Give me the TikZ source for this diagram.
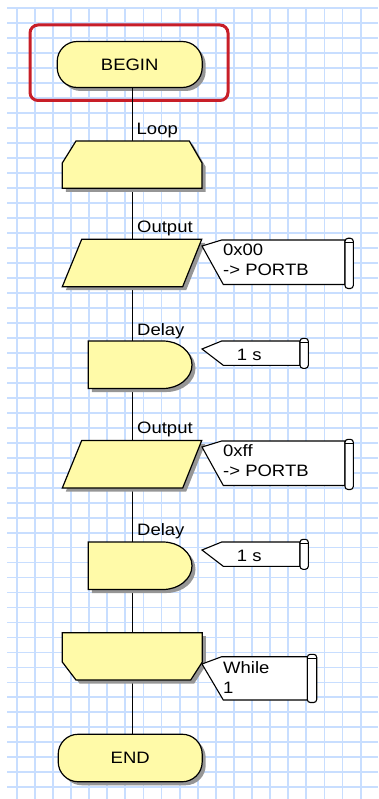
\documentclass[tikz,border=0pt]{standalone}
\usepackage{fontspec}
\setmainfont{Liberation Sans}[FakeStretch=1.12]
\definecolor{fy}{RGB}{255,250,168}
\definecolor{gridc}{RGB}{200,222,255}
\definecolor{redc}{RGB}{200,30,40}
\definecolor{shd}{RGB}{150,150,150}
\begin{document}
\begin{tikzpicture}[x=1pt,y=-1pt,
 gridline/.style={gridc, line width=1.8pt},
 shp/.style={fill=fy, draw=black, line width=1.2pt, line join=miter,
   preaction={fill=shd, draw=none, transform canvas={xshift=3.5pt,yshift=-3.5pt}}},
 flow/.style={draw=black, line width=1.3pt},
 lbl/.style={anchor=base west, inner sep=0pt, font=\fontsize{16.5}{18}\selectfont},
 cmt/.style={fill=white, draw=black, line width=1.1pt, line join=miter},
 scroll/.style={fill=white, draw=black, line width=1.1pt, rounded corners=3pt},
 terminal/.style={shp, rounded corners=20pt, minimum width=145pt, minimum height=46pt,
   inner sep=0pt, font=\fontsize{16.5}{18}\selectfont},
 hilite/.style={draw=redc, line width=3pt, rounded corners=8pt},
]
\useasboundingbox (0,0) rectangle (378,799);
% grid
\foreach \k in {0,...,19} \draw[gridline] ({16.7+18.1*\k},8) -- ({16.7+18.1*\k},799);
\foreach \k in {0,...,52} \draw[gridline] (7,{8.3+14.98*\k}) -- (378,{8.3+14.98*\k});

% highlight
\draw[hilite] (30,25) rectangle (228,100.5);

% terminals
\node[terminal] (begin) at (129.7,64.5) {BEGIN};
\node[terminal, minimum width=144pt, minimum height=47.5pt] (end) at (130.2,758) {END};

% spine
\coordinate (spine) at (132.7,0);
\draw[flow] (begin.south -| spine) -- (end.north -| spine);

% loop start
\path[shp] (76,141) -- (189.3,141) -- (202,163) -- (202,188.3) -- (62.3,188.3) -- (62.3,163) -- cycle;
% output 1
\path[shp] (81.7,239.3) -- (201.7,239.3) -- (182.7,286.7) -- (62.3,286.7) -- cycle;
% delay 1
\path[shp] (88.3,341) -- (163,341) .. controls (179,341) and (192,351.6) .. (192,364.75)
   .. controls (192,377.9) and (179,388.5) .. (163,388.5) -- (88.3,388.5) -- cycle;
% output 2
\path[shp] (81.7,440.5) -- (201.7,440.5) -- (182.7,488) -- (62.3,488) -- cycle;
% delay 2
\path[shp] (88.3,542) -- (163,542) .. controls (179,542) and (192,552.6) .. (192,565.75)
   .. controls (192,578.9) and (179,589.5) .. (163,589.5) -- (88.3,589.5) -- cycle;
% loop end
\path[shp] (62.3,632.7) -- (202.3,632.7) -- (202.3,662) -- (190.7,680) -- (76,680) -- (62.3,662) -- cycle;

% labels
\node[lbl] (lLoop) at (136.5,135) {Loop};
\node[lbl] (lOut1) at (137,233) {Output};
\node[lbl] (lDel1) at (137,335) {Delay};
\node[lbl] (lOut2) at (137,433) {Output};
\node[lbl] (lDel2) at (137,535) {Delay};

% comment 1
\path[cmt] (202,246) -- (221.7,240) -- (345,240) -- (345,284.5) -- (223.3,284.5) -- cycle;
\path[scroll] (345,238.3) rectangle (353.3,288.5);
\draw[line width=1pt] (345,242.3) -- (353.3,242.3);
\node[lbl] (c1a) at (223,255) {0x00};
\node[lbl] (c1b) at (223,275) {-> PORTB};

% comment 2
\path[cmt] (202,349) -- (221.7,341) -- (300,341) -- (300,365.3) -- (223.3,365.3) -- cycle;
\path[scroll] (300,338.3) rectangle (308.3,368.3);
\draw[line width=1pt] (300,342.3) -- (308.3,342.3);
\node[lbl] (c2a) at (236.7,360) {1 s};

% comment 3
\path[cmt] (202,447) -- (221.7,441) -- (345,441) -- (345,485.5) -- (223.3,485.5) -- cycle;
\path[scroll] (345,439.3) rectangle (353.3,489.5);
\draw[line width=1pt] (345,443.3) -- (353.3,443.3);
\node[lbl] (c3a) at (223,456) {0xff};
\node[lbl] (c3b) at (223,476) {-> PORTB};

% comment 4
\path[cmt] (202,550) -- (221.7,542) -- (300,542) -- (300,566.3) -- (223.3,566.3) -- cycle;
\path[scroll] (300,539.3) rectangle (308.3,569.3);
\draw[line width=1pt] (300,543.3) -- (308.3,543.3);
\node[lbl] (c4a) at (236.7,561) {1 s};

% comment 5
\path[cmt] (202,664) -- (221.7,656.7) -- (307.3,656.7) -- (307.3,700) -- (223.3,700) -- cycle;
\path[scroll] (307.3,654.3) rectangle (316.7,702.5);
\draw[line width=1pt] (307.3,658.3) -- (316.7,658.3);
\node[lbl] (c5a) at (223,673) {While};
\node[lbl] (c5b) at (223,693) {1};
\end{tikzpicture}
\end{document}
